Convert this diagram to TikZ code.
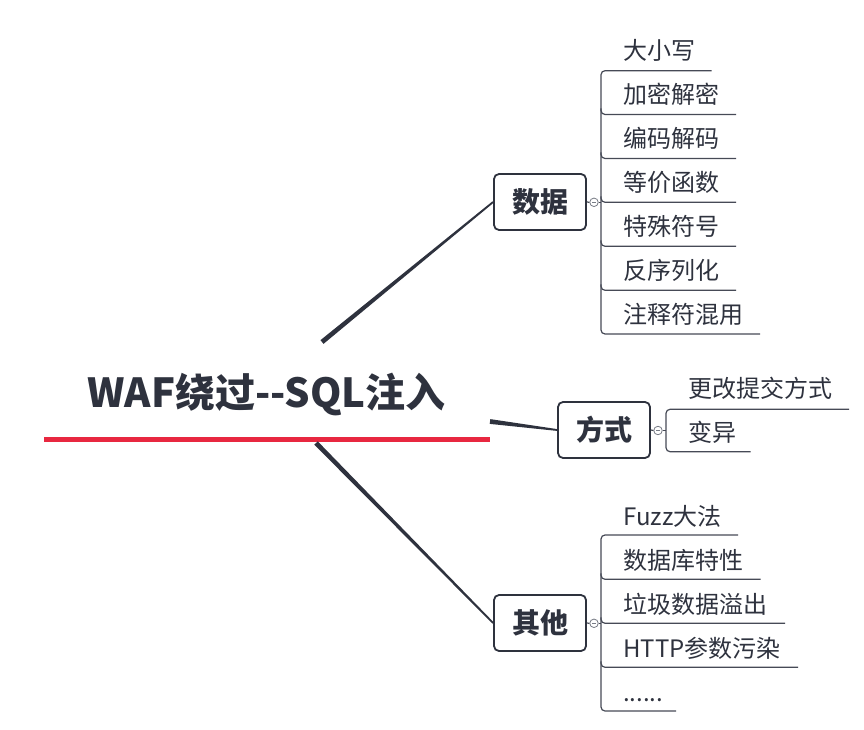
\documentclass[tikz,border=0pt]{standalone}
\usepackage{fontspec}
\setmainfont{Noto Sans CJK SC}[Ligatures=NoCommon]
\usetikzlibrary{calc}
\definecolor{ink}{RGB}{46,50,62}
\definecolor{lineg}{RGB}{70,74,86}
\definecolor{redl}{RGB}{232,40,64}
\definecolor{togg}{RGB}{120,124,134}
\newcommand\taperline[4]{\fill[ink] ($(#1)!#3!90:(#2)$) -- ($(#2)!#4!-90:(#1)$) -- ($(#2)!#4!90:(#1)$) -- ($(#1)!#3!-90:(#2)$) -- cycle;}
\tikzset{
  topic/.style={draw=ink, line width=1.8pt, rounded corners=5pt, fill=white,
    minimum width=92pt, minimum height=56pt, inner sep=0pt,
    font=\fontsize{28}{30}\selectfont\bfseries, text=ink},
  leaf/.style={anchor=base west, inner sep=0pt, font=\fontsize{24}{26}\selectfont, text=ink},
  ul/.style={draw=lineg, line width=1.2pt, rounded corners=4pt},
  tog/.style={circle, draw=togg, fill=white, minimum size=8.5pt, inner sep=0pt, line width=0.8pt,
    path picture={\draw[togg,line width=0.6pt] ([xshift=-2pt]path picture bounding box.center) -- ([xshift=2pt]path picture bounding box.center);}},
  link/.style={draw=lineg, line width=1.2pt}
}
\begin{document}
\begin{tikzpicture}[x=1pt,y=-1pt]
\useasboundingbox (0,0) rectangle (864,730);

% root
\node[font=\fontsize{40}{44}\selectfont\bfseries, text=ink, anchor=base, inner sep=0pt] (root) at (266.5,407) {WAF绕过{-}{-}SQL注入};
\coordinate (r0) at (44,439);
\coordinate (r1) at (490,439);
\draw[redl, line width=5pt] (r0) -- (r1);
\coordinate (rt) at (322,342);
\coordinate (rm) at (490,421.5);
\coordinate (rb) at (316,443);

% main topics
\node[topic] (sj) at (540,202) {数据};
\node[topic] (fs) at (604,430) {方式};
\node[topic] (qt) at (540,623) {其他};

\taperline{rt}{sj.west}{2.4pt}{0.9pt}
\taperline{rm}{fs.west}{2.4pt}{0.9pt}
\taperline{rb}{qt.west}{2.4pt}{0.9pt}

% toggles
\node[tog] (tsj) at (594,202.3) {};
\node[tog] (tfs) at (658,430.5) {};
\node[tog] (tqt) at (594,623.3) {};
\draw[link] (sj.east) -- (tsj.west);
\draw[link] (fs.east) -- (tfs.west);
\draw[link] (qt.east) -- (tqt.west);

% ---- 数据 children
\coordinate (a1s) at (601,70.7);  \coordinate (a1e) at (711.7,70.7);
\coordinate (a2s) at (601,114.5); \coordinate (a2e) at (736,114.5);
\coordinate (a3s) at (601,158.5); \coordinate (a3e) at (736,158.5);
\coordinate (a4s) at (601,202.3); \coordinate (a4e) at (736,202.3);
\coordinate (a5s) at (601,246.3); \coordinate (a5e) at (736,246.3);
\coordinate (a6s) at (601,290.3); \coordinate (a6e) at (736,290.3);
\coordinate (a7s) at (601,334);   \coordinate (a7e) at (760,334);
\draw[ul] (a1e) -- (a1s) -- (a7s) -- (a7e);
\foreach \i in {2,...,6}{\draw[ul] ($(a\i s)+(0,-6)$) -- (a\i s) -- (a\i e);}
\draw[link] (tsj.east) -- (a4s);
\node[leaf] (a1) at (623,59.8) {大小写};
\node[leaf] (a2) at (623,103.8) {加密解密};
\node[leaf] (a3) at (623,147.8) {编码解码};
\node[leaf] (a4) at (623,191.8) {等价函数};
\node[leaf] (a5) at (623,235.8) {特殊符号};
\node[leaf] (a6) at (623,279.8) {反序列化};
\node[leaf] (a7) at (623,323.8) {注释符混用};

% ---- 方式 children
\coordinate (b1s) at (666,409.3); \coordinate (b1e) at (849,409.3);
\coordinate (b2s) at (666,451.7); \coordinate (b2e) at (750.7,451.7);
\coordinate (bj) at (666,430.5);
\draw[ul] (b1e) -- (b1s) -- (b2s) -- (b2e);
\draw[link] (tfs.east) -- (bj);
\node[leaf] (b1) at (688,397) {更改提交方式};
\node[leaf] (b2) at (688,441.8) {变异};

% ---- 其他 children
\coordinate (c1s) at (601,535);   \coordinate (c1e) at (738,535);
\coordinate (c2s) at (601,579.3); \coordinate (c2e) at (760.7,579.3);
\coordinate (c3s) at (601,623.3); \coordinate (c3e) at (785,623.3);
\coordinate (c4s) at (601,667.3); \coordinate (c4e) at (798,667.3);
\coordinate (c5s) at (601,711);   \coordinate (c5e) at (676,711);
\draw[ul] (c1e) -- (c1s) -- (c5s) -- (c5e);
\foreach \i in {2,...,4}{\draw[ul] ($(c\i s)+(0,-6)$) -- (c\i s) -- (c\i e);}
\draw[link] (tqt.east) -- (c3s);
\node[leaf] (c1) at (623,525.8) {Fuzz大法};
\node[leaf] (c2) at (623,569.5) {数据库特性};
\node[leaf] (c3) at (623,613.5) {垃圾数据溢出};
\node[leaf] (c4) at (623,657.5) {HTTP参数污染};
\node[leaf] (c5) at (623,701.5) {......};
\end{tikzpicture}
\end{document}
